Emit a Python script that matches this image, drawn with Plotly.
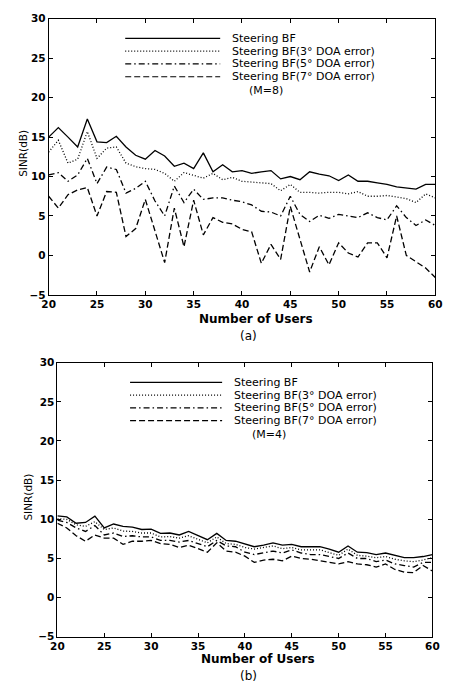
import plotly.graph_objects as go

users = list(range(20, 61))

# (a) M=8
a_steer = [15.0, 16.2, 15.0, 13.75, 17.3, 14.4, 14.3, 15.1, 13.75, 12.7, 12.2, 13.3, 12.6, 11.3, 11.7, 11.0, 13.0, 10.6, 11.5, 10.6, 10.75,
           10.4, 10.6, 10.75, 9.7, 10.0, 9.6, 10.6, 10.3, 10.1, 9.5, 10.2, 9.4, 9.4, 9.2, 9.0, 8.7, 8.55, 8.4, 9.0, 9.0]
a_3deg = [13.1, 14.6, 11.7, 12.2, 15.7, 12.3, 13.6, 13.75, 11.7, 11.25, 11.0, 10.9, 10.4, 9.4, 10.5, 10.1, 9.8, 10.4, 9.6, 9.9, 9.4,
          9.3, 9.2, 9.1, 8.2, 9.0, 8.0, 8.0, 7.9, 8.0, 8.0, 7.8, 8.1, 7.5, 7.5, 7.6, 7.4, 7.2, 6.7, 7.8, 7.3]
a_5deg = [10.2, 10.5, 9.4, 10.2, 12.3, 9.1, 11.2, 10.9, 7.9, 8.5, 9.4, 6.9, 5.0, 8.8, 6.7, 8.4, 7.1, 7.3, 7.3, 7.0, 6.8,
          6.4, 5.6, 5.5, 5.0, 7.5, 5.2, 4.3, 5.1, 4.7, 5.2, 5.0, 4.8, 5.4, 4.8, 4.5, 6.3, 4.8, 3.8, 4.5, 3.8]
a_7deg = [7.5, 6.0, 7.7, 8.3, 8.6, 5.0, 8.1, 8.0, 2.4, 3.4, 7.1, 3.1, -0.9, 6.0, 1.1, 7.0, 2.6, 4.8, 4.2, 4.0, 3.3,
          3.0, -1.0, 1.4, -0.5, 6.2, 2.2, -2.1, 1.1, -1.2, 1.6, 0.3, -0.2, 1.6, 1.6, -0.3, 5.0, 0.0, -0.8, -1.6, -2.8]

# (b) M=4
b_steer = [10.45, 10.3, 9.5, 9.6, 10.4, 8.9, 9.4, 9.1, 9.0, 8.7, 8.75, 8.2, 8.25, 8.0, 8.45, 7.9, 7.4, 8.2, 7.3, 7.2, 6.8,
           6.5, 6.7, 7.0, 6.7, 6.8, 6.5, 6.5, 6.5, 6.2, 5.8, 6.6, 5.8, 5.75, 5.5, 5.7, 5.4, 5.1, 5.1, 5.25, 5.5]
b_3deg = [10.1, 10.0, 9.3, 9.1, 9.7, 8.7, 8.9, 8.5, 8.45, 8.25, 8.25, 7.75, 7.8, 7.6, 7.9, 7.4, 7.0, 7.75, 6.9, 6.8, 6.4,
          6.2, 6.4, 6.6, 6.25, 6.4, 6.1, 6.1, 6.1, 5.75, 5.4, 6.2, 5.4, 5.3, 5.1, 5.25, 4.9, 4.7, 4.6, 4.8, 5.1]
b_5deg = [9.9, 9.6, 8.9, 8.45, 9.2, 8.0, 8.25, 7.8, 7.9, 7.75, 7.75, 7.3, 7.3, 7.1, 7.3, 6.9, 6.5, 7.3, 6.6, 6.5, 5.8,
          5.5, 5.75, 5.95, 5.7, 6.1, 5.7, 5.5, 5.5, 5.25, 5.0, 5.7, 5.0, 5.0, 4.6, 4.8, 4.3, 4.1, 3.9, 4.5, 4.5]
b_7deg = [9.5, 8.9, 7.9, 7.2, 8.0, 7.6, 7.6, 6.8, 7.2, 7.2, 7.3, 6.9, 6.8, 6.4, 6.7, 6.2, 5.8, 7.0, 5.95, 5.8, 5.3,
          4.5, 4.8, 4.9, 4.7, 5.3, 5.0, 4.9, 4.7, 4.5, 4.3, 4.6, 4.3, 4.2, 3.9, 4.3, 3.6, 3.25, 3.2, 4.1, 3.4]

series_names = ["Steering BF", "Steering BF(3\u00b0 DOA error)",
                "Steering BF(5\u00b0 DOA error)", "Steering BF(7\u00b0 DOA error)"]
dashes = ["solid", "1px,2px", "6px,3px,1.5px,3px", "6px,3px"]
x_ticks = [20, 25, 30, 35, 40, 45, 50, 55, 60]
y_ticks = [-5, 0, 5, 10, 15, 20, 25, 30]

W, H = 452, 688
def px(x): return x / W
def py(y): return 1 - y / H

fig = go.Figure()
for ys, dash, name in zip([a_steer, a_3deg, a_5deg, a_7deg], dashes, series_names):
    fig.add_trace(go.Scatter(x=users, y=ys, mode="lines", name=name, xaxis="x", yaxis="y",
                             line=dict(color="black", width=1.3, dash=dash), showlegend=False))
for ys, dash, name in zip([b_steer, b_3deg, b_5deg, b_7deg], dashes, series_names):
    fig.add_trace(go.Scatter(x=users, y=ys, mode="lines", name=name, xaxis="x2", yaxis="y2",
                             line=dict(color="black", width=1.3, dash=dash), showlegend=False))

tickfont = dict(family="DejaVu Sans", size=10.5, color="black", weight="bold")
axis_common = dict(showline=True, linecolor="black", linewidth=1, mirror="ticks",
                   ticks="inside", ticklen=4, tickcolor="black", showgrid=False, zeroline=False,
                   tickfont=tickfont)

fig.update_layout(
    width=W, height=H, margin=dict(l=0, r=0, t=0, b=0),
    paper_bgcolor="white", plot_bgcolor="white",
    xaxis=dict(domain=[px(43), px(442)], range=[20, 60], tickvals=x_ticks, anchor="y", **axis_common),
    yaxis=dict(domain=[py(294), py(13)], range=[-5, 30], tickvals=y_ticks, anchor="x", **axis_common),
    xaxis2=dict(domain=[px(52), px(439)], range=[20, 60], tickvals=x_ticks, anchor="y2", **axis_common),
    yaxis2=dict(domain=[py(642), py(363)], range=[-5, 30], tickvals=y_ticks, anchor="x2", **axis_common),
)

shapes = []
annotations = []
legend_font = dict(family="DejaVu Sans", size=11, color="black")
label_font = dict(family="DejaVu Sans", size=12, color="black", weight="bold")

def add_legend(x0, x1, tx, ys, note, note_x, note_y):
    for y, dash, name in zip(ys, dashes, series_names):
        shapes.append(dict(type="line", xref="paper", yref="paper", x0=px(x0), x1=px(x1),
                           y0=py(y), y1=py(y), line=dict(color="black", width=1.2, dash=dash)))
        annotations.append(dict(text=name, xref="paper", yref="paper", x=px(tx), y=py(y),
                                xanchor="left", yanchor="middle", showarrow=False, font=legend_font))
    annotations.append(dict(text=note, xref="paper", yref="paper", x=px(note_x), y=py(note_y),
                            xanchor="left", yanchor="middle", showarrow=False, font=legend_font))

add_legend(122, 220, 230, [33, 46, 59, 72], "(M=8)", 248, 86)
add_legend(127, 222, 232, [383, 396, 409, 422], "(M=4)", 251, 436)

for (xc, yc) in [(17, 150), (22, 500)]:
    annotations.append(dict(text="SINR(dB)", xref="paper", yref="paper", x=px(xc), y=py(yc),
                            xanchor="center", yanchor="middle", textangle=-90, showarrow=False,
                            font=dict(family="DejaVu Sans", size=10.5, color="black")))
for (xc, yc, t) in [(257, 319, "Number of Users"), (259, 665, "Number of Users")]:
    annotations.append(dict(text=t, xref="paper", yref="paper", x=px(xc), y=py(yc),
                            xanchor="center", yanchor="middle", showarrow=False, font=label_font))
for (xc, yc, t) in [(249, 336, "(a)"), (249, 682, "(b)")]:
    annotations.append(dict(text=t, xref="paper", yref="paper", x=px(xc), y=py(yc),
                            xanchor="center", yanchor="middle", showarrow=False,
                            font=dict(family="DejaVu Sans", size=12, color="black")))

fig.update_layout(shapes=shapes, annotations=annotations)
fig.write_html("out.html")
